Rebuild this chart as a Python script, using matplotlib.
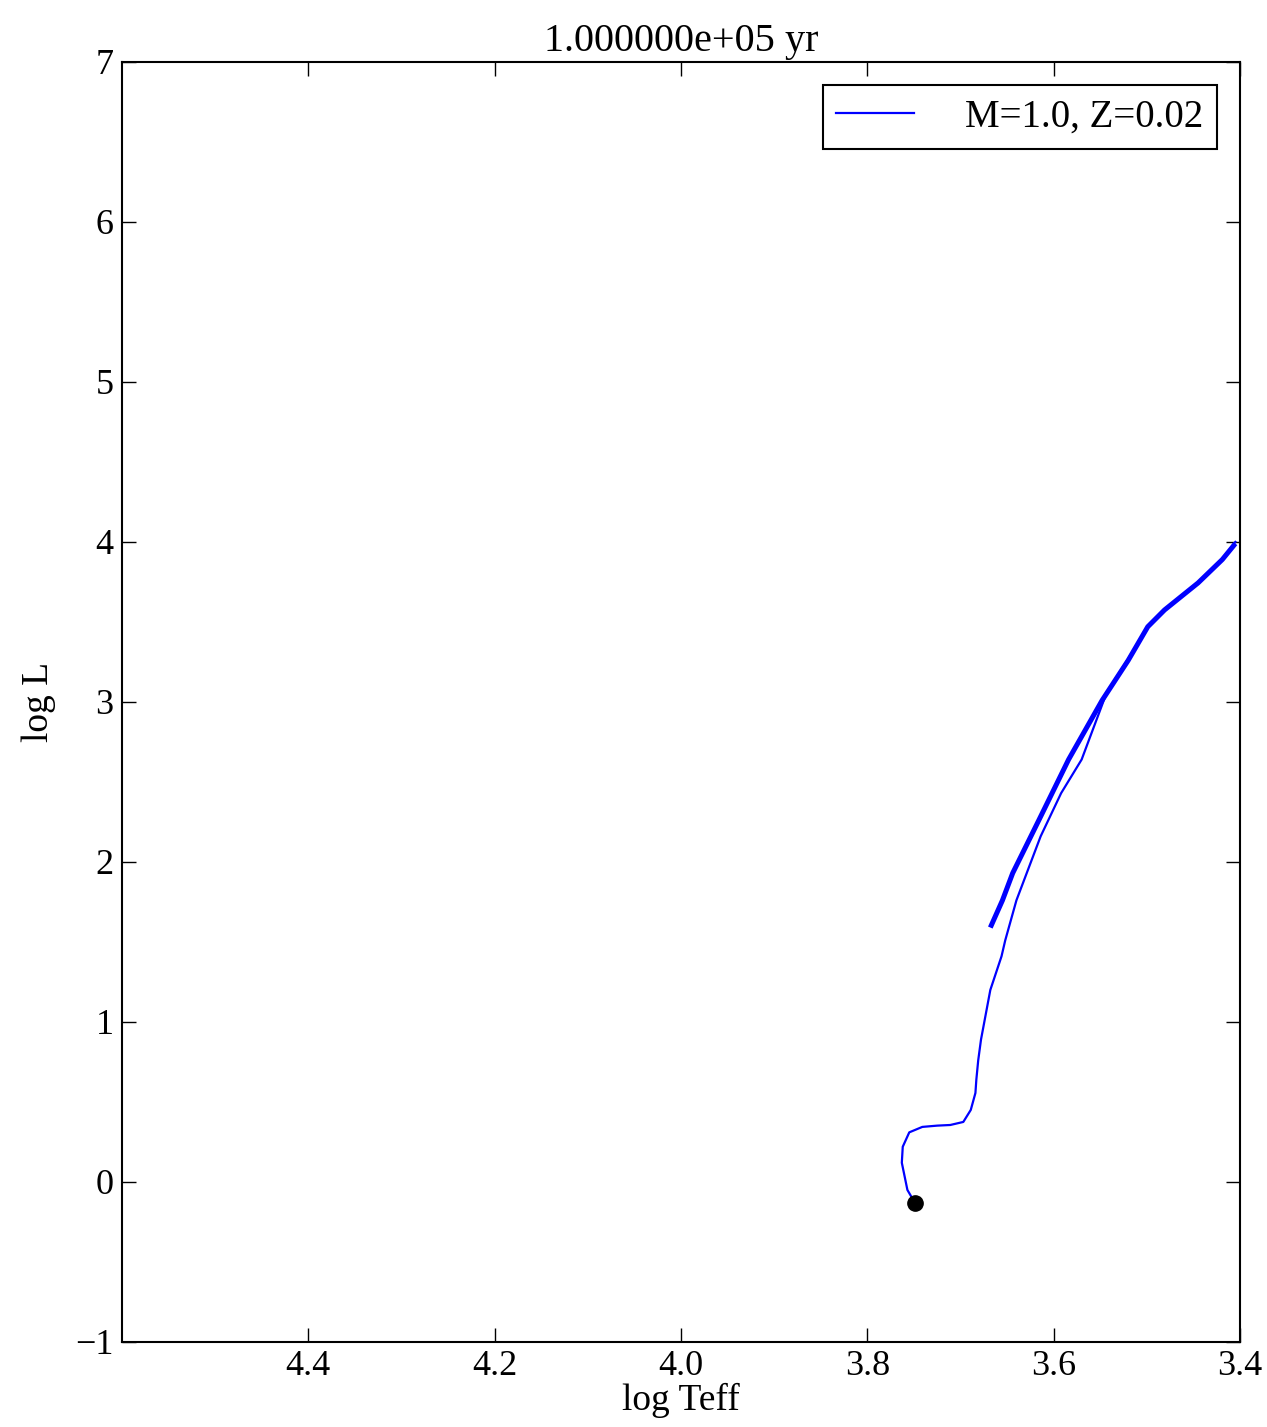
import matplotlib
matplotlib.use("Agg")
import matplotlib.pyplot as plt

# pre-main-sequence + main sequence + red giant branch (log Teff, log L)
rgb_logteff = [3.749, 3.757, 3.763, 3.762, 3.755, 3.741, 3.725, 3.711, 3.697,
               3.689, 3.684, 3.683, 3.681, 3.678, 3.668, 3.656, 3.652, 3.640,
               3.614, 3.592, 3.570, 3.543, 3.520, 3.499, 3.481, 3.445, 3.419,
               3.405]
rgb_logl = [-0.13, -0.05, 0.12, 0.22, 0.31, 0.344, 0.352, 0.356, 0.375,
            0.45, 0.556, 0.64, 0.76, 0.89, 1.20, 1.41, 1.51, 1.76,
            2.16, 2.43, 2.64, 3.06, 3.27, 3.47, 3.575, 3.744, 3.89,
            4.00]

# horizontal branch / asymptotic giant branch (many overlapping passes)
agb_logteff = [3.668, 3.655, 3.644, 3.616, 3.584, 3.548, 3.520, 3.499, 3.481,
               3.445, 3.419, 3.405]
agb_logl = [1.59, 1.76, 1.93, 2.26, 2.64, 3.01, 3.26, 3.47, 3.575,
            3.744, 3.89, 3.99]

current_logteff = 3.749
current_logl = -0.13
age_title = "1.000000e+05 yr"
track_label = "M=1.0, Z=0.02"

plt.rcParams["font.family"] = ["Liberation Serif", "DejaVu Serif"]

fig = plt.figure(figsize=(12.67, 14.27), dpi=100)
ax = fig.add_axes([0.0963, 0.0596, 0.8824, 0.897])

ax.plot(rgb_logteff, rgb_logl, color="#0000ff", lw=1.6, label=track_label)
ax.plot(agb_logteff, agb_logl, color="#0000ff", lw=3.6, solid_capstyle="butt")
ax.plot([current_logteff], [current_logl], "o", color="black", ms=11)

ax.set_xlim(4.6, 3.4)
ax.set_ylim(-1, 7)
ax.set_xticks([4.4, 4.2, 4.0, 3.8, 3.6, 3.4])
ax.set_yticks(range(-1, 8))
ax.tick_params(direction="in", length=10, width=1, top=True, right=True,
               labelsize=26, pad=6)
for s in ax.spines.values():
    s.set_linewidth(1.5)

ax.set_xlabel("log Teff", fontsize=27, labelpad=0)
ax.set_ylabel("log L", fontsize=27, labelpad=14)
ax.set_title(age_title, fontsize=29, pad=8)

leg = ax.legend(loc="upper right", fontsize=28, fancybox=False,
                edgecolor="black", framealpha=1, handlelength=2.0,
                handletextpad=1.3, borderpad=0.35, borderaxespad=0.6)
leg.get_frame().set_linewidth(1.5)

fig.savefig("out.png", dpi=100)
